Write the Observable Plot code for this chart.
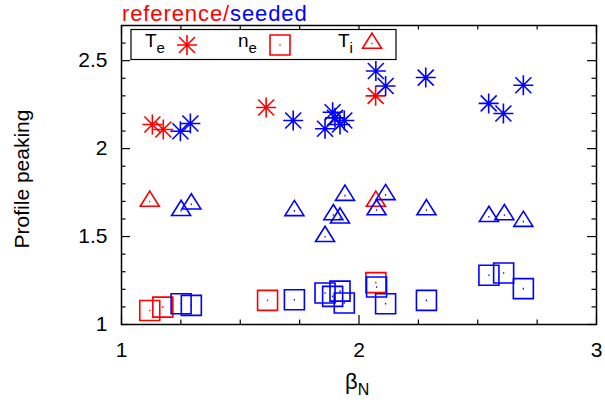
<!DOCTYPE html>
<html><head><meta charset="utf-8">
<script src="https://cdn.jsdelivr.net/npm/d3@7"></script>
<script src="https://cdn.jsdelivr.net/npm/@observablehq/plot@0.6"></script>
<style>body{margin:0;background:#fff}#chart{width:605px;height:402px}</style>
</head><body><div id="chart"></div>
<script>
// reference (red) data
const teRefX = [1.13, 1.176, 1.609, 2.07];
const teRefY = [2.137, 2.109, 2.234, 2.30];
const neRefX = [1.119, 1.174, 1.615, 2.071];
const neRefY = [1.08, 1.099, 1.137, 1.238];
const tiRefX = [1.119, 2.071];
const tiRefY = [1.699, 1.699];
// seeded (blue) data
const teSeedX = [1.248, 1.29, 1.723, 1.857, 1.889, 1.899, 1.92, 1.938, 2.071, 2.112, 2.281, 2.546, 2.608, 2.692];
const teSeedY = [2.099, 2.143, 2.16, 2.113, 2.207, 2.175, 2.137, 2.16, 2.441, 2.356, 2.404, 2.257, 2.20, 2.36];
const tiSeedX = [1.251, 1.294, 1.728, 1.857, 1.892, 1.92, 1.941, 2.074, 2.112, 2.284, 2.547, 2.612, 2.692];
const tiSeedY = [1.647, 1.684, 1.646, 1.499, 1.623, 1.604, 1.733, 1.651, 1.737, 1.651, 1.613, 1.623, 1.585];
const neSeedX = [1.251, 1.294, 1.728, 1.857, 1.889, 1.92, 1.938, 2.074, 2.112, 2.284, 2.547, 2.609, 2.692];
const neSeedY = [1.118, 1.109, 1.141, 1.179, 1.16, 1.19, 1.122, 1.213, 1.118, 1.137, 1.28, 1.293, 1.204];
// ticks
const xTicks = [1, 2, 3];
const xMinor = [1.25, 1.5, 1.75, 2.25, 2.5, 2.75];
const yTicks = [1, 1.5, 2, 2.5];
const yMinor = [1.1, 1.2, 1.3, 1.4, 1.6, 1.7, 1.8, 1.9, 2.1, 2.2, 2.3, 2.4, 2.6];
const titleParts = [["reference/", "#ff0000"], ["seeded", "#0000ff"]];
const legendItems = [["T", "e"], ["n", "e"], ["T", "i"]];

const RED = "#ff0000", BLUE = "#0000ff";
const star = {draw(c, size) { const r = Math.sqrt(size / Math.PI), d = r * 0.8;
  c.moveTo(-r, 0); c.lineTo(r, 0); c.moveTo(0, -r); c.lineTo(0, r);
  c.moveTo(-d, -d); c.lineTo(d, d); c.moveTo(-d, d); c.lineTo(d, -d); }};
const box = {draw(c, size) { const r = Math.sqrt(size / Math.PI);
  c.rect(-r, -r, 2 * r, 2 * r); c.moveTo(-0.6, 0); c.lineTo(0.6, 0); }};
const tri = {draw(c, size) { const r = Math.sqrt(size / Math.PI);
  c.moveTo(0, -1.1 * r); c.lineTo(r, 0.5 * r); c.lineTo(-r, 0.5 * r); c.closePath();
  c.moveTo(-0.6, 0); c.lineTo(0.6, 0); }};

const pts = (X, Y) => X.map((x, i) => ({x, y: Y[i]}));
const W = 605, H = 402, ML = 121, MR = 9, MT = 25, MB = 78;
const iw = W - ML - MR, ih = H - MT - MB;
const dotOpts = (color, symbol, r) => ({x: "x", y: "y", symbol, r, stroke: color, fill: "none", strokeWidth: 1.6});

const plot = Plot.plot({
  width: W, height: H, marginLeft: ML, marginRight: MR, marginTop: MT, marginBottom: MB,
  style: {fontFamily: "'Liberation Sans', Arial, sans-serif", fontSize: "21px", color: "black", background: "white"},
  x: {domain: [1, 3]},
  y: {domain: [1, 2.7]},
  marks: [
    Plot.axisX(xTicks, {tickSize: 0, tickPadding: 18, label: null, fontSize: 21, tickFormat: d => String(d)}),
    Plot.axisY(yTicks, {tickSize: 0, tickPadding: 14, label: null, fontSize: 21, tickFormat: d => String(d)}),
    Plot.tickY(yTicks, {y: d => d, insetRight: iw - 9, strokeWidth: 1.2}),
    Plot.tickY(yTicks, {y: d => d, insetLeft: iw - 9, strokeWidth: 1.2}),
    Plot.tickY(yMinor, {y: d => d, insetRight: iw - 4.5, strokeWidth: 1.2}),
    Plot.tickY(yMinor, {y: d => d, insetLeft: iw - 4.5, strokeWidth: 1.2}),
    Plot.tickX(xTicks, {x: d => d, insetTop: ih - 9, strokeWidth: 1.2}),
    Plot.tickX(xTicks, {x: d => d, insetBottom: ih - 9, strokeWidth: 1.2}),
    Plot.tickX(xMinor, {x: d => d, insetTop: ih - 4.5, strokeWidth: 1.2}),
    Plot.tickX(xMinor, {x: d => d, insetBottom: ih - 4.5, strokeWidth: 1.2}),
    Plot.dot(pts(teRefX, teRefY), dotOpts(RED, star, 10)),
    Plot.dot(pts(neRefX, neRefY), dotOpts(RED, box, 10)),
    Plot.dot(pts(tiRefX, tiRefY), dotOpts(RED, tri, 9.5)),
    Plot.dot(pts(teSeedX, teSeedY), dotOpts(BLUE, star, 10)),
    Plot.dot(pts(neSeedX, neSeedY), dotOpts(BLUE, box, 10)),
    Plot.dot(pts(tiSeedX, tiSeedY), dotOpts(BLUE, tri, 9.5)),
    Plot.frame({stroke: "black", strokeWidth: 1.5})
  ]
});
document.getElementById("chart").appendChild(plot);

const svg = d3.select(plot);
const font = "'Liberation Sans', Arial, sans-serif";
// title
const t = svg.append("text").attr("x", 122).attr("y", 20.5).attr("text-anchor", "start")
  .attr("font-size", 22).attr("letter-spacing", 0.9).attr("font-family", font);
titleParts.forEach(([s, c]) => t.append("tspan").attr("fill", c).text(s));
// y label
svg.append("text").attr("transform", "translate(29,179) rotate(-90)").attr("text-anchor", "middle")
  .attr("font-size", 21).attr("font-family", font).text("Profile peaking");
// x label
const xl = svg.append("text").attr("x", 345).attr("y", 389).attr("text-anchor", "start")
  .attr("font-size", 22).attr("font-family", font);
xl.append("tspan").text("β");
xl.append("tspan").attr("font-size", 16).attr("dy", 6).text("N");
// legend
const lg = svg.append("g");
lg.append("rect").attr("x", 131).attr("y", 29.5).attr("width", 265).attr("height", 30)
  .attr("fill", "white").attr("stroke", "black").attr("stroke-width", 1.2);
const lx = [145, 238, 338], sx = [187, 280, 372], syms = [star, box, tri], sr = [10, 10, 9.5];
legendItems.forEach(([a, b], i) => {
  const tx = lg.append("text").attr("x", lx[i]).attr("y", 47).attr("text-anchor", "start")
    .attr("font-size", 19).attr("font-family", font);
  tx.append("tspan").text(a);
  tx.append("tspan").attr("font-size", 15).attr("dy", 6).text(b);
  const p = d3.path(); syms[i].draw(p, sr[i] * sr[i] * Math.PI);
  lg.append("path").attr("d", p.toString()).attr("transform", `translate(${sx[i]},${i === 2 ? 43.5 : 45})`)
    .attr("fill", "none").attr("stroke", RED).attr("stroke-width", 1.6);
});
</script></body></html>
